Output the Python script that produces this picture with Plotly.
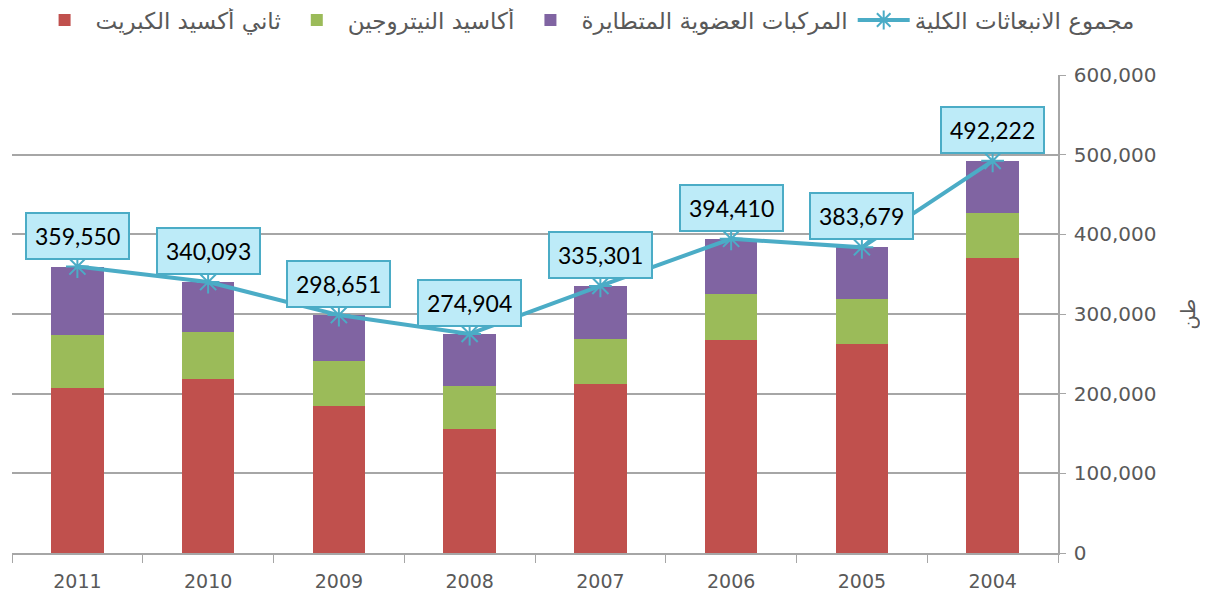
import plotly.graph_objects as go

years = ["2011", "2010", "2009", "2008", "2007", "2006", "2005", "2004"]
so2 = [207500, 218400, 185000, 156000, 212500, 267400, 262000, 370700]
nox = [66000, 59000, 55700, 53600, 56100, 57600, 56800, 55700]
voc = [86000, 62700, 58000, 65300, 66700, 69400, 64900, 65800]
total = [359550, 340093, 298651, 274904, 335301, 394410, 383679, 492222]

name_so2 = "ثاني أكسيد الكبريت"
name_nox = "أكاسيد النيتروجين"
name_voc = "المركبات العضوية المتطايرة"
name_total = "مجموع الانبعاثات الكلية"
y_title = "طن"

FONT = "DejaVu Sans"
GRAY = "#595959"
GRID = "#A6A6A6"
TEAL = "#4BACC6"

fig = go.Figure()
fig.add_trace(go.Bar(x=years, y=so2, name=name_so2, marker=dict(color="#C0504D", line=dict(width=0))))
fig.add_trace(go.Bar(x=years, y=nox, name=name_nox, marker=dict(color="#9BBB59", line=dict(width=0))))
fig.add_trace(go.Bar(x=years, y=voc, name=name_voc, marker=dict(color="#8064A2", line=dict(width=0))))
fig.add_trace(go.Scatter(
    x=years, y=total, name=name_total, mode="lines+markers",
    line=dict(color=TEAL, width=4),
    marker=dict(symbol="asterisk-open", size=19, color=TEAL, line=dict(width=2, color=TEAL)),
))

for i, v in enumerate(total):
    fig.add_annotation(
        x=i, y=v, xref="x", yref="y", text=f"{v:,}", showarrow=False, yshift=31,
        font=dict(family="Lato", size=23, color="#000000"),
        bgcolor="#BDEBF8", bordercolor=TEAL, borderwidth=2, borderpad=8,
    )

fig.add_annotation(
    xref="paper", yref="paper", x=1.124, y=0.5, xanchor="center", yanchor="middle",
    text=y_title, showarrow=False,
    textangle=-90, font=dict(family=FONT, size=20, color=GRAY),
)

fig.update_layout(
    width=1208, height=600,
    barmode="stack", bargap=0.6,
    plot_bgcolor="white", paper_bgcolor="white",
    margin=dict(l=4, r=158, t=67, b=55, autoexpand=False),
    font=dict(family=FONT, size=20, color=GRAY),
    legend=dict(
        orientation="h",
        x=1.078, xanchor="right", y=1.115, yanchor="middle",
        font=dict(family=FONT, size=23, color=GRAY),
        traceorder="normal", itemwidth=52,
    ),
    xaxis=dict(
        type="category", range=[-0.5, 7.5], automargin=False,
        showline=True, linecolor=GRID, linewidth=1.5,
        ticks="outside", tickson="boundaries", ticklen=8, tickcolor=GRID,
        tickangle=0, ticklabelstandoff=10,
        tickfont=dict(family=FONT, size=19, color=GRAY), showgrid=False,
    ),
    yaxis=dict(
        side="right", range=[0, 600000], dtick=100000, tickformat=",d",
        automargin=False,
        showgrid=True, gridcolor=GRID, gridwidth=1.5,
        showline=True, linecolor=GRID, linewidth=1.5,
        ticks="outside", ticklen=6, tickcolor=GRID, ticklabelstandoff=4,
        tickfont=dict(family=FONT, size=20, color=GRAY),
        zeroline=False,
    ),
)

fig.write_html("out.html")
